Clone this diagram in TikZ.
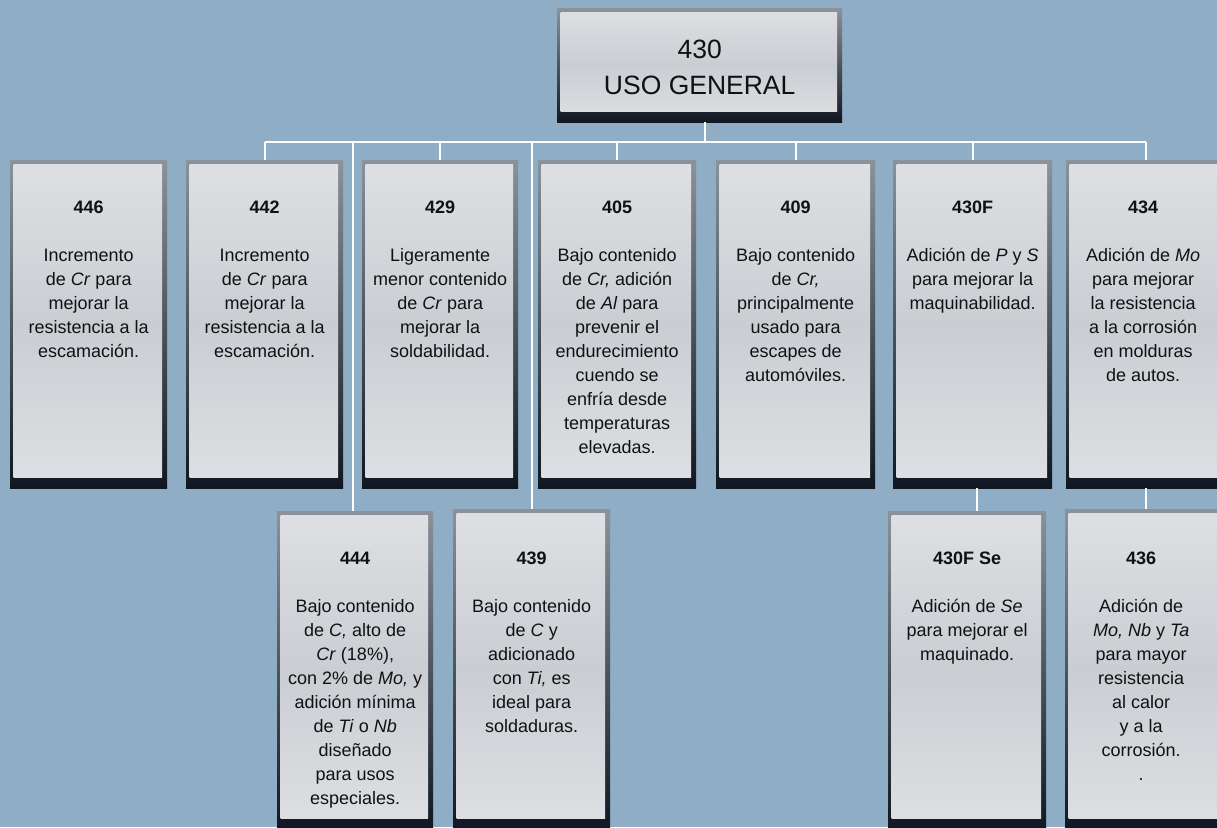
\documentclass[tikz,border=0pt]{standalone}
\usepackage{fontspec}
\setmainfont{Liberation Sans}
\definecolor{bg}{RGB}{143,173,197}
\definecolor{facemid}{RGB}{202,205,210}
\definecolor{facelight}{RGB}{222,224,227}
\definecolor{edgetop}{RGB}{140,146,155}
\definecolor{edgebot}{RGB}{16,23,34}
\definecolor{ink}{RGB}{17,17,17}
\tikzset{
  card/.style={rectangle, inner sep=0pt, anchor=north west, top color=edgetop, bottom color=edgebot,
    path picture={\shade[top color=facelight, bottom color=facelight, middle color=facemid]
      ([xshift=3.5pt,yshift=-4pt]path picture bounding box.north west) rectangle
      ([xshift=-5pt,yshift=11pt]path picture bounding box.south east);}},
  body/.style={anchor=north, inner sep=0pt, align=center, text=ink,
    font=\fontsize{18pt}{24pt}\selectfont},
  title/.style={inner sep=0pt, align=center, text=ink, font=\fontsize{26.5pt}{36pt}\selectfont},
  conn/.style={draw=white, line width=2pt}
}
\begin{document}
\begin{tikzpicture}[x=1pt,y=-1pt]
\useasboundingbox (0,0) rectangle (1217,827);
\fill[bg] (0,0) rectangle (1217,827);
\clip (0,0) rectangle (1217,827);
\coordinate (bar) at (0,142);

% root
\node[card, minimum width=285pt, minimum height=114pt] (root) at (557,8) {};
\node[title] (troot) at ([yshift=-2pt]root.center) {430\\USO GENERAL};

% connectors (drawn first so cards sit on top)
\draw[conn] ([xshift=5.5pt]root.south) -- ([xshift=5.5pt]root.south |- bar);
\draw[conn] (265,142) coordinate (barL) -- (1146,142) coordinate (barR);

% row 1 cards
\node[card, minimum width=157pt, minimum height=328pt] (b446) at (10,160) {};
\node[card, minimum width=157pt, minimum height=328pt] (b442) at (186,160) {};
\node[card, minimum width=156pt, minimum height=328pt] (b429) at (362,160) {};
\node[card, minimum width=158pt, minimum height=328pt] (b405) at (538,160) {};
\node[card, minimum width=159pt, minimum height=328pt] (b409) at (716,160) {};
\node[card, minimum width=159pt, minimum height=328pt] (b430F) at (893,160) {};
\node[card, minimum width=160pt, minimum height=328pt] (b434) at (1066,160) {};

% row 2 cards
\node[card, minimum width=156pt, minimum height=318pt] (b444) at (277,511) {};
\node[card, minimum width=157pt, minimum height=320pt] (b439) at (453,509) {};
\node[card, minimum width=158pt, minimum height=318pt] (b430FSe) at (888,511) {};
\node[card, minimum width=160pt, minimum height=320pt] (b436) at (1065,509) {};

% drops from bar
\foreach \b in {b442,b429,b405,b409,b430F,b434}
  \draw[conn] (\b.north |- bar) -- (\b.north);
\draw[conn] ([xshift=-2pt]b444.north |- bar) -- ([xshift=-2pt]b444.north);
\draw[conn] (b439.north |- bar) -- (b439.north);
\draw[conn] ([xshift=4.5pt]b430F.south) -- ([xshift=4.5pt]b430F.south |- b430FSe.north);
\draw[conn] (b434.south) -- (b434.south |- b436.north);

% texts row 1
\node[body] (t446) at ([yshift=-41pt]b446.north) {\textbf{446}\\[24pt]Incremento\\de \textit{Cr} para\\mejorar la\\resistencia a la\\escamación.};
\node[body] (t442) at ([yshift=-41pt]b442.north) {\textbf{442}\\[24pt]Incremento\\de \textit{Cr} para\\mejorar la\\resistencia a la\\escamación.};
\node[body] (t429) at ([yshift=-41pt]b429.north) {\textbf{429}\\[24pt]Ligeramente\\menor contenido\\de \textit{Cr} para\\mejorar la\\soldabilidad.};
\node[body] (t405) at ([yshift=-41pt]b405.north) {\textbf{405}\\[24pt]Bajo contenido\\de \textit{Cr,} adición\\de \textit{Al} para\\prevenir el\\endurecimiento\\cuendo se\\enfría desde\\temperaturas\\elevadas.};
\node[body] (t409) at ([yshift=-41pt]b409.north) {\textbf{409}\\[24pt]Bajo contenido\\de \textit{Cr,}\\principalmente\\usado para\\escapes de\\automóviles.};
\node[body] (t430F) at ([yshift=-41pt]b430F.north) {\textbf{430F}\\[24pt]Adición de \textit{P} y \textit{S}\\para mejorar la\\maquinabilidad.};
\node[body] (t434) at ([yshift=-41pt,xshift=-3pt]b434.north) {\textbf{434}\\[24pt]Adición de \textit{Mo}\\para mejorar\\la resistencia\\a la corrosión\\en molduras\\de autos.};

% texts row 2
\node[body] (t444) at ([yshift=-41pt]b444.north) {\textbf{444}\\[24pt]Bajo contenido\\de \textit{C,} alto de\\\textit{Cr} (18\%),\\con 2\% de \textit{Mo,} y\\adición mínima\\de \textit{Ti} o \textit{Nb}\\diseñado\\para usos\\especiales.};
\node[body] (t439) at ([yshift=-43pt]b439.north) {\textbf{439}\\[24pt]Bajo contenido\\de \textit{C} y\\adicionado\\con \textit{Ti,} es\\ideal para\\soldaduras.};
\node[body] (t430FSe) at ([yshift=-41pt]b430FSe.north) {\textbf{430F Se}\\[24pt]Adición de \textit{Se}\\para mejorar el\\maquinado.};
\node[body] (t436) at ([yshift=-43pt,xshift=-4pt]b436.north) {\textbf{436}\\[24pt]Adición de\\\textit{Mo, Nb} y \textit{Ta}\\para mayor\\resistencia\\al calor\\y a la\\corrosión.\\.};
\end{tikzpicture}
\end{document}
